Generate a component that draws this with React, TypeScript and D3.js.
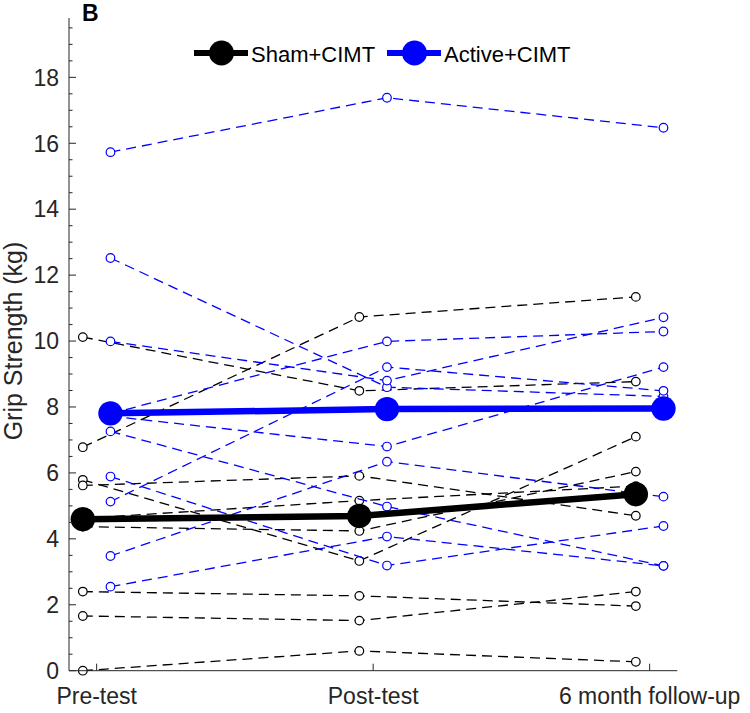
import React from "react";
import * as d3 from "d3";

// ---- data ----
const timepoints = ["Pre-test", "Post-test", "6 month follow-up"];
const shamPre = [10.12, 6.78, 5.79, 5.62, 4.62, 4.37, 2.4, 1.66, 0.0];
const shamPost = [8.49, 10.73, 3.33, 5.91, 5.16, 4.24, 2.27, 1.52, 0.6];
const shamFollow = [8.77, 11.34, 7.1, 4.7, 5.6, 6.04, 1.96, 2.4, 0.27];
const activePre = [15.73, 12.52, 9.99, 7.8, 7.72, 7.26, 5.89, 5.13, 3.48, 2.55];
const activePost = [17.38, 8.6, 8.8, 9.99, 6.8, 4.98, 3.19, 9.21, 6.34, 4.07];
const activeFollow = [16.47, 8.32, 10.72, 10.29, 9.21, 3.18, 4.39, 8.49, 5.28, 3.18];
const yTicks = [0, 2, 4, 6, 8, 10, 12, 14, 16, 18];
const legendLabels = ["Sham+CIMT", "Active+CIMT"];

const W = 750;
const H = 713;
const axisColor = "#262626";
const font = "'Liberation Sans', Arial, sans-serif";

export default function App() {
  const x = d3.scaleLinear().domain([0.9, 3.1]).range([69, 677.3]);
  const y = d3.scaleLinear().domain([0, 19.8]).range([670.7, 18]);

  const groups = [
    { name: legendLabels[0], color: "#000000", offset: -0.05, pre: shamPre, post: shamPost, fol: shamFollow },
    { name: legendLabels[1], color: "#0000ff", offset: 0.05, pre: activePre, post: activePost, fol: activeFollow },
  ];

  const line = d3
    .line<[number, number]>()
    .x((d) => x(d[0]))
    .y((d) => y(d[1]));

  const minorTicks = d3.range(0, 19.75, 0.5);

  return (
    <svg
      width={W}
      height={H}
      style={{ position: "absolute", left: 0, top: 0, background: "#fff" }}
      fontFamily={font}
    >
      <rect width={W} height={H} fill="#fff" />
      {/* individual subjects */}
      {groups.map((g) => (
        <g key={g.name}>
          {g.pre.map((v, i) => {
            const pts: [number, number][] = [
              [1 + g.offset, v],
              [2 + g.offset, g.post[i]],
              [3 + g.offset, g.fol[i]],
            ];
            return (
              <g key={i}>
                <path d={line(pts) || ""} fill="none" stroke={g.color} strokeWidth={1.3} strokeDasharray="10,6" />
                {pts.map((p, j) => (
                  <circle key={j} cx={x(p[0])} cy={y(p[1])} r={4.3} fill="#fff" stroke={g.color} strokeWidth={1.2} />
                ))}
              </g>
            );
          })}
        </g>
      ))}
      {/* means */}
      {groups.map((g) => {
        const means: [number, number][] = [
          [1 + g.offset, d3.mean(g.pre) as number],
          [2 + g.offset, d3.mean(g.post) as number],
          [3 + g.offset, d3.mean(g.fol) as number],
        ];
        return (
          <g key={"m" + g.name}>
            <path d={line(means) || ""} fill="none" stroke={g.color} strokeWidth={6.5} />
            {means.map((p, j) => (
              <circle key={j} cx={x(p[0])} cy={y(p[1])} r={12.2} fill={g.color} />
            ))}
          </g>
        );
      })}
      {/* y axis */}
      <line x1={69} x2={69} y1={y(19.8)} y2={y(0)} stroke={axisColor} strokeWidth={1} />
      {minorTicks.map((t) => (
        <line
          key={"mt" + t}
          x1={69}
          x2={t % 2 === 0 ? 76 : 72.5}
          y1={y(t)}
          y2={y(t)}
          stroke={axisColor}
          strokeWidth={1}
        />
      ))}
      {yTicks.map((t) => (
        <text key={"yt" + t} x={59} y={y(t)} dy="0.36em" textAnchor="end" fontSize={23} fill={axisColor}>
          {t}
        </text>
      ))}
      <text
        transform={`translate(22,341) rotate(-90)`}
        textAnchor="middle"
        fontSize={25}
        fill={axisColor}
      >
        Grip Strength (kg)
      </text>
      {/* x axis */}
      <line x1={69} x2={677.3} y1={y(0)} y2={y(0)} stroke={axisColor} strokeWidth={1} />
      {timepoints.map((t, i) => (
        <g key={t}>
          <line x1={x(i + 1)} x2={x(i + 1)} y1={y(0)} y2={y(0) - 7} stroke={axisColor} strokeWidth={1} />
          <text x={x(i + 1)} y={704} textAnchor="middle" fontSize={23} fill={axisColor}>
            {t}
          </text>
        </g>
      ))}
      {/* panel label */}
      <text x={82} y={20.5} fontSize={23} fontWeight="bold" fill="#000">
        B
      </text>
      {/* legend */}
      {groups.map((g, i) => {
        const x0 = i === 0 ? 194 : 387;
        return (
          <g key={"lg" + g.name}>
            <line x1={x0} x2={x0 + 54} y1={53} y2={53} stroke={g.color} strokeWidth={6} />
            <circle cx={x0 + 27.5} cy={53} r={12.5} fill={g.color} />
            <text x={x0 + 57} y={61.5} fontSize={22} fill="#000">
              {g.name}
            </text>
          </g>
        );
      })}
    </svg>
  );
}
